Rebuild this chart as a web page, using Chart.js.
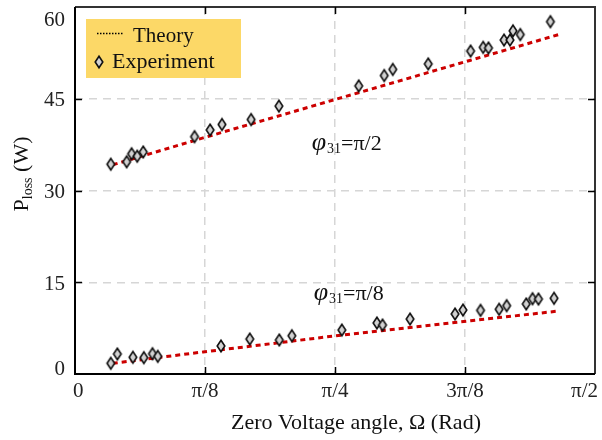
<!DOCTYPE html>
<html><head><meta charset="utf-8">
<script src="https://cdn.jsdelivr.net/npm/chart.js@4.4.0/dist/chart.umd.min.js"></script>
<style>html,body{margin:0;padding:0;background:#fff}canvas{display:block}</style>
</head><body>
<canvas id="c" width="602" height="440"></canvas>
<script>
// ---- tick labels ----
const xTickValues = [0, Math.PI/8, Math.PI/4, 3*Math.PI/8, Math.PI/2];
const xTickLabels = ['0', 'π/8', 'π/4', '3π/8', 'π/2'];
const yTickValues = [0, 15, 30, 45, 60];
const yTickLabels = ['0', '15', '30', '45', '60'];

// ---- experiment, φ31 = π/2 (x in rad, P in W) ----
const expHighX = [0.108, 0.156, 0.171, 0.188, 0.206, 0.361, 0.408, 0.444, 0.532, 0.616, 0.857, 0.934, 0.960, 1.067, 1.195, 1.233, 1.249, 1.296, 1.314, 1.323, 1.345, 1.436];
const expHighY = [34.3, 34.7, 36.0, 35.6, 36.3, 38.8, 39.9, 40.8, 41.6, 43.8, 47.1, 48.8, 49.8, 50.7, 52.8, 53.4, 53.3, 54.6, 54.6, 56.1, 55.5, 57.6];

// ---- experiment, φ31 = π/8 ----
const expLowX = [0.108, 0.128, 0.175, 0.208, 0.234, 0.250, 0.441, 0.528, 0.617, 0.655, 0.806, 0.912, 0.929, 1.012, 1.148, 1.172, 1.225, 1.281, 1.304, 1.363, 1.382, 1.400, 1.447];
const expLowY = [1.75, 3.27, 2.73, 2.67, 3.32, 2.89, 4.58, 5.72, 5.56, 6.26, 7.19, 8.34, 8.01, 8.99, 9.81, 10.46, 10.41, 10.58, 11.17, 11.45, 12.31, 12.26, 12.38];

// ---- theory ----
const theoryX = [0.114, 0.387, 0.781, 1.195, 1.462];
const theoryHighY = [34.2, 38.6, 44.8, 51.3, 55.5];
const theoryLowY = [1.75, 3.6, 6.2, 8.7, 10.3];

// ---- annotation anchors (data units) ----
const annotations = [
  {x: 0.715, y: 36.6, sub: '31', rhs: '=π/2'},
  {x: 0.721, y: 12.1, sub: '31', rhs: '=π/8'}
];

const SERIF = '"Liberation Serif", "DejaVu Serif", serif';
const zip = (xs, ys) => xs.map((x, i) => ({x: x, y: ys[i]}));

function makeDiamond() {
  const c = document.createElement('canvas');
  c.width = 12; c.height = 16;
  const g = c.getContext('2d');
  g.beginPath();
  g.moveTo(6, 2.3); g.lineTo(9.8, 8); g.lineTo(6, 13.7); g.lineTo(2.2, 8); g.closePath();
  g.fillStyle = '#d2d2d2'; g.fill();
  g.lineWidth = 1.6; g.strokeStyle = '#111'; g.stroke();
  return c;
}
const diamond = makeDiamond();

const decor = {
  id: 'decor',
  afterDraw(chart) {
    const ctx = chart.ctx, a = chart.chartArea;
    const xs = chart.scales.x, ys = chart.scales.y;
    ctx.save();
    // frame
    ctx.lineWidth = 2;
    ctx.strokeStyle = '#333';
    ctx.beginPath();
    ctx.moveTo(a.left, a.top); ctx.lineTo(a.right, a.top); ctx.lineTo(a.right, a.bottom);
    ctx.stroke();
    ctx.strokeStyle = '#000';
    ctx.beginPath();
    ctx.moveTo(a.left, a.top); ctx.lineTo(a.left, a.bottom); ctx.lineTo(a.right, a.bottom);
    ctx.stroke();
    // inward ticks
    ctx.lineWidth = 1.5; ctx.strokeStyle = '#000';
    const tl = 7;
    xTickValues.slice(1, -1).forEach(v => {
      const p = Math.round(xs.getPixelForValue(v)) + 0.5;
      ctx.beginPath();
      ctx.moveTo(p, a.bottom); ctx.lineTo(p, a.bottom - tl);
      ctx.moveTo(p, a.top); ctx.lineTo(p, a.top + tl);
      ctx.stroke();
    });
    yTickValues.slice(1, -1).forEach(v => {
      const p = Math.round(ys.getPixelForValue(v)) + 0.5;
      ctx.beginPath();
      ctx.moveTo(a.left, p); ctx.lineTo(a.left + tl, p);
      ctx.moveTo(a.right, p); ctx.lineTo(a.right - tl, p);
      ctx.stroke();
    });
    // x tick labels
    ctx.fillStyle = '#222';
    ctx.font = '21px ' + SERIF;
    ctx.textBaseline = 'alphabetic';
    xTickValues.forEach((v, i) => {
      const p = xs.getPixelForValue(v);
      let align = 'center', px = p;
      if (i === 0) { align = 'left'; px = p - 2; }
      if (i === xTickValues.length - 1) { align = 'right'; px = p + 3; }
      ctx.textAlign = align;
      ctx.fillText(xTickLabels[i], px, a.bottom + 23);
    });
    // y tick labels
    ctx.textAlign = 'right'; ctx.textBaseline = 'middle';
    yTickValues.forEach((v, i) => {
      let p = ys.getPixelForValue(v) + 2;
      if (i === 0) p = a.bottom - 5;
      if (i === yTickValues.length - 1) p = a.top + 13;
      ctx.fillText(yTickLabels[i], 65, p);
    });
    // x title
    ctx.fillStyle = '#111';
    ctx.textAlign = 'center'; ctx.textBaseline = 'alphabetic';
    ctx.font = '22px ' + SERIF;
    ctx.fillText('Zero Voltage angle, Ω (Rad)', 356, 429);
    // y title  P_loss (W)
    ctx.save();
    ctx.translate(28, 174);
    ctx.rotate(-Math.PI / 2);
    ctx.textAlign = 'left';
    const fMain = '22px ' + SERIF, fSub = '14px ' + SERIF;
    ctx.font = fMain; const wP = ctx.measureText('P').width;
    ctx.font = fSub; const wL = ctx.measureText('loss').width;
    ctx.font = fMain; const wW = ctx.measureText(' (W)').width;
    let sx = -(wP + wL + wW) / 2;
    ctx.font = fMain; ctx.fillText('P', sx, 0); sx += wP;
    ctx.font = fSub; ctx.fillText('loss', sx, 4); sx += wL;
    ctx.font = fMain; ctx.fillText(' (W)', sx, 0);
    ctx.restore();
    // annotations
    annotations.forEach(an => {
      let px = xs.getPixelForValue(an.x), py = ys.getPixelForValue(an.y);
      ctx.textAlign = 'left'; ctx.textBaseline = 'alphabetic';
      ctx.font = 'italic 26px ' + SERIF;
      ctx.fillText('φ', px, py);
      px += ctx.measureText('φ').width + 1;
      ctx.font = '14px ' + SERIF;
      ctx.fillText(an.sub, px, py + 3);
      px += ctx.measureText(an.sub).width;
      ctx.font = '22px ' + SERIF;
      ctx.fillText(an.rhs, px, py);
    });
    // legend
    ctx.fillStyle = '#FCD867';
    ctx.fillRect(86, 19, 155, 59);
    ctx.strokeStyle = '#000'; ctx.lineWidth = 1.3;
    ctx.setLineDash([1.5, 1.5]);
    ctx.beginPath(); ctx.moveTo(97, 33.5); ctx.lineTo(123, 33.5); ctx.stroke();
    ctx.setLineDash([]);
    ctx.drawImage(diamond, 99 - 6, 62 - 8);
    ctx.fillStyle = '#111';
    ctx.font = '21px ' + SERIF;
    ctx.fillText('Theory', 133, 42);
    ctx.font = '22px ' + SERIF;
    ctx.fillText('Experiment', 112, 68);
    ctx.restore();
  }
};

new Chart(document.getElementById('c'), {
  type: 'scatter',
  data: {
    datasets: [
      {label: 'Experiment', data: zip(expHighX, expHighY), pointStyle: diamond, pointRadius: 6, showLine: false},
      {label: 'Experiment ', data: zip(expLowX, expLowY), pointStyle: diamond, pointRadius: 6, showLine: false},
      {label: 'Theory', data: zip(theoryX, theoryHighY), showLine: true, borderColor: '#cc0000', borderWidth: 3, borderDash: [5, 4], pointRadius: 0, fill: false},
      {label: 'Theory ', data: zip(theoryX, theoryLowY), showLine: true, borderColor: '#cc0000', borderWidth: 3, borderDash: [5, 4], pointRadius: 0, fill: false}
    ]
  },
  options: {
    responsive: false,
    animation: false,
    devicePixelRatio: 1,
    layout: {padding: {left: 75, right: 4, top: 7, bottom: 66}},
    plugins: {legend: {display: false}, tooltip: {enabled: false}},
    scales: {
      x: {
        type: 'linear', min: 0, max: Math.PI / 2,
        afterBuildTicks: s => { s.ticks = xTickValues.map(v => ({value: v})); },
        ticks: {display: false},
        grid: {color: '#d6d6d6', lineWidth: 1.5, drawTicks: false},
        border: {display: false, dash: [8, 6]}
      },
      y: {
        type: 'linear', min: 0, max: 60,
        afterBuildTicks: s => { s.ticks = yTickValues.map(v => ({value: v})); },
        ticks: {display: false},
        grid: {color: '#d6d6d6', lineWidth: 1.5, drawTicks: false},
        border: {display: false, dash: [8, 6]}
      }
    }
  },
  plugins: [decor]
});
</script>
</body></html>
